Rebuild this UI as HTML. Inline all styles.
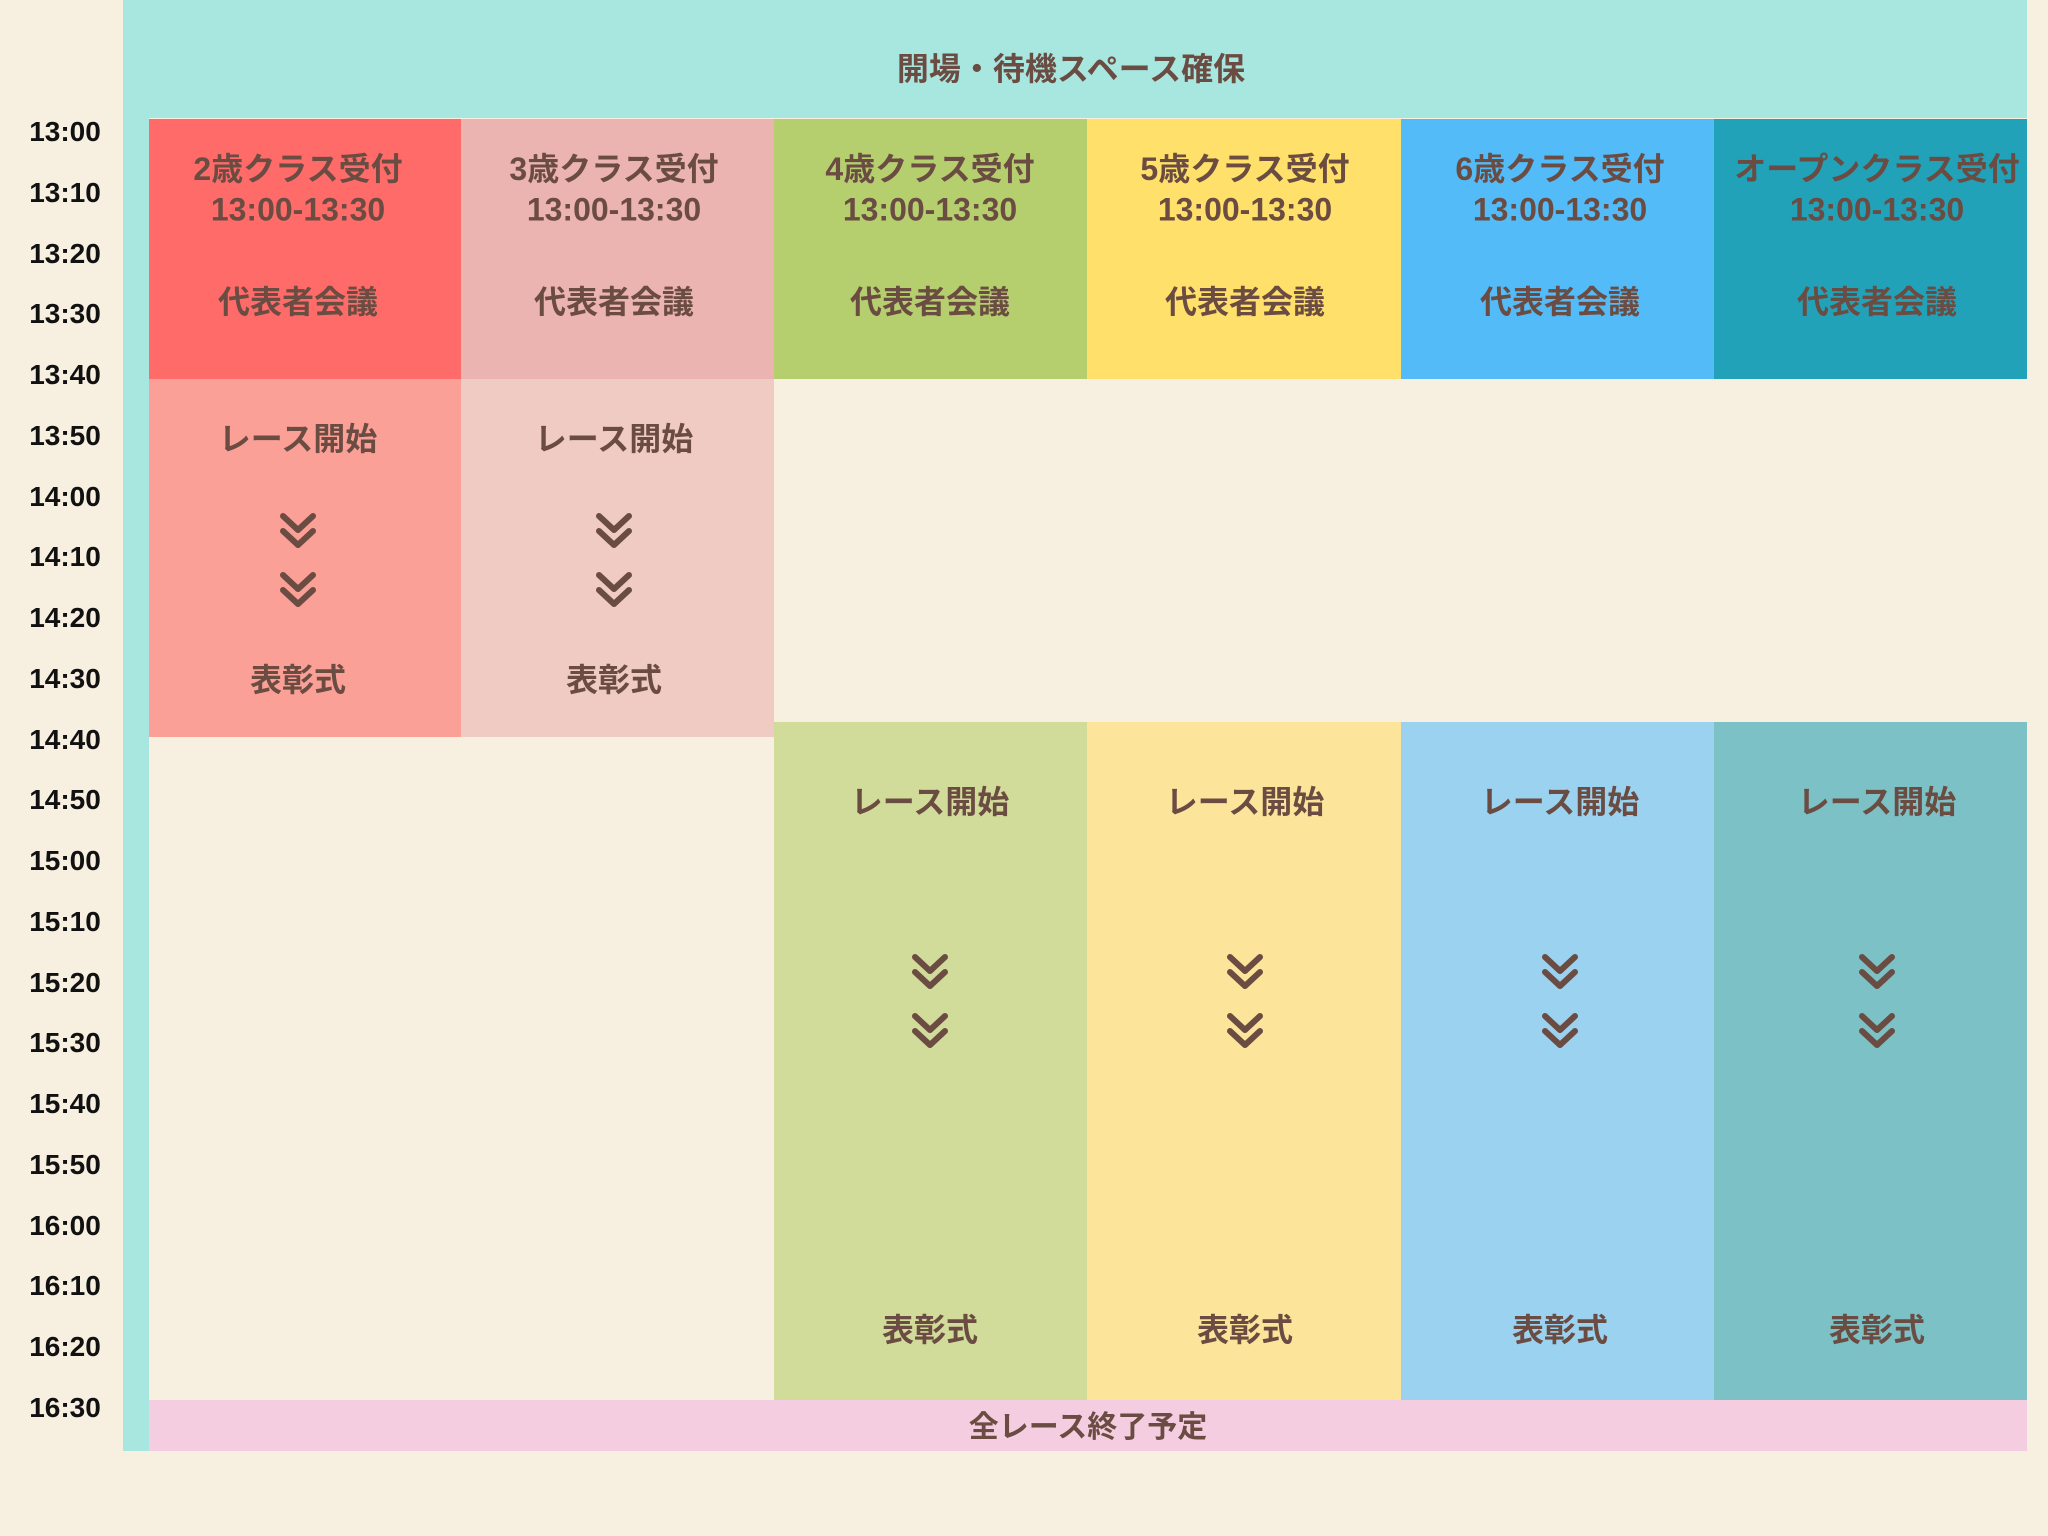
<!DOCTYPE html>
<html><head><meta charset="utf-8"><style>
body{margin:0;width:2048px;height:1536px;background:#f7efdf;position:relative;overflow:hidden;font-family:"Liberation Sans","Noto Sans CJK JP",sans-serif;font-weight:bold;color:#6b4c42}
.b{position:absolute}
.t{position:absolute;transform:translate(-50%,-50%);white-space:nowrap;font-size:32px;text-align:center}
.tm{position:absolute;left:11px;width:108px;text-align:center;transform:translateY(-50%);font-size:28px;color:#111;font-family:"Liberation Sans",sans-serif}
svg.c{position:absolute;transform:translate(-50%,-50%)}
</style></head><body>
<div class="b" style="left:123px;top:0;width:26px;height:1451px;background:#a8e6e0"></div>
<div class="b" style="left:149px;top:0;width:1878px;height:118px;background:#a8e6e0"></div>
<div class="t" style="left:1071px;top:67px">開場・待機スペース確保</div>
<div class="b" style="left:149px;top:119px;width:312px;height:260px;background:#ff6b68"></div>
<div class="b" style="left:461px;top:119px;width:313px;height:260px;background:#ecb4b0"></div>
<div class="b" style="left:774px;top:119px;width:313px;height:260px;background:#b5cf6e"></div>
<div class="b" style="left:1087px;top:119px;width:314px;height:260px;background:#ffe06a"></div>
<div class="b" style="left:1401px;top:119px;width:313px;height:260px;background:#53bbf8"></div>
<div class="b" style="left:1714px;top:119px;width:313px;height:260px;background:#22a2b8"></div>
<div class="b" style="left:149px;top:379px;width:312px;height:358px;background:#fba096"></div>
<div class="b" style="left:461px;top:379px;width:313px;height:358px;background:#efcbc3"></div>
<div class="b" style="left:774px;top:722px;width:313px;height:678px;background:#d1db9a"></div>
<div class="b" style="left:1087px;top:722px;width:314px;height:678px;background:#fce59b"></div>
<div class="b" style="left:1401px;top:722px;width:313px;height:678px;background:#9bd2ef"></div>
<div class="b" style="left:1714px;top:722px;width:313px;height:678px;background:#7cc1c5"></div>
<div class="b" style="left:149px;top:1400px;width:1878px;height:51px;background:#f5cde0"></div>
<div class="t" style="left:1088px;top:1424px;font-size:30px">全レース終了予定</div>
<div id="c"></div>
<script>
var xs=[298,614,930,1245,1560,1877],names=["2歳","3歳","4歳","5歳","6歳","オープン"],h="";
var chev='<svg class="c" width="40" height="44" viewBox="0 0 40 44" style="left:XPX;top:YPX"><path d="M5 5 L20 19 L35 5 M5 20 L20 34 L35 20" fill="none" stroke="#6b4c42" stroke-width="6" stroke-linecap="round" stroke-linejoin="round"/></svg>';
for(var i=0;i<6;i++){var x=xs[i];
h+='<div class="t" style="left:'+x+'px;top:167px">'+names[i]+'クラス受付</div>';
h+='<div class="t" style="left:'+x+'px;top:210px">13:00-13:30</div>';
h+='<div class="t" style="left:'+x+'px;top:300px">代表者会議</div>';
var r=i<2?[437,533,592,678]:[800,974,1033,1328];
h+='<div class="t" style="left:'+x+'px;top:'+r[0]+'px">レース開始</div>';
h+=chev.replace('X',x).replace('Y',r[1]);h+=chev.replace('X',x).replace('Y',r[2]);
h+='<div class="t" style="left:'+x+'px;top:'+r[3]+'px">表彰式</div>';}
for(var k=0;k<22;k++){var m=780+k*10;var s=Math.floor(m/60)+":"+("0"+m%60).slice(-2);
h+='<div class="tm" style="top:'+(132+k*60.76)+'px">'+s+'</div>';}
document.getElementById("c").innerHTML=h;
</script>
</body></html>
